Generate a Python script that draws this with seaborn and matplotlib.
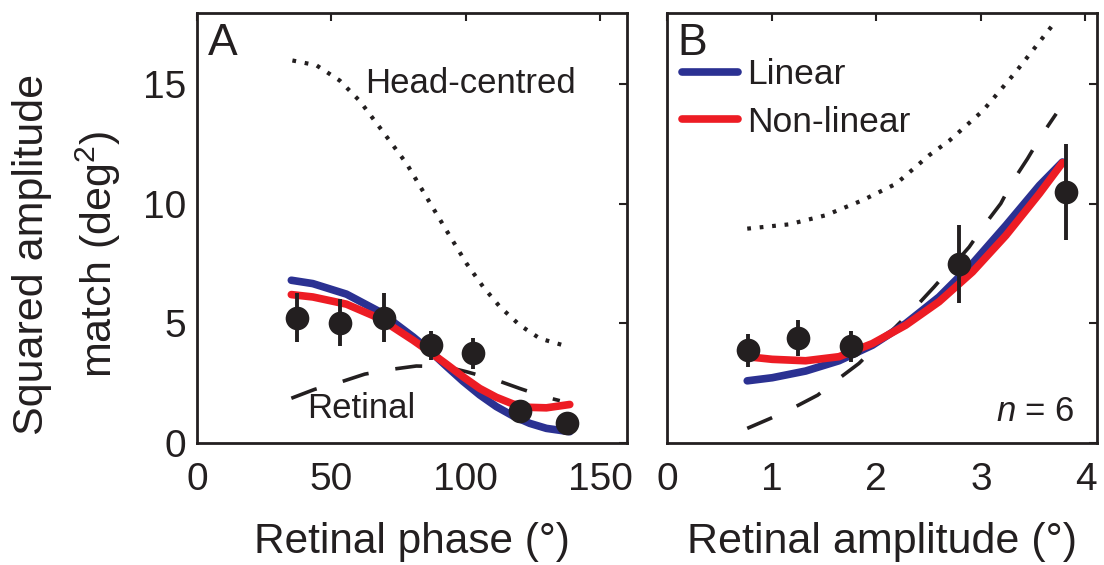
import numpy as np
import pandas as pd
import matplotlib
matplotlib.use("Agg")
import matplotlib.pyplot as plt
import seaborn as sns

# ---------------- Panel A data ----------------
a_pts_x = [37.2, 53.2, 69.6, 87.0, 102.7, 120.1, 137.5]
a_pts_y = [5.2, 5.03, 5.23, 4.08, 3.74, 1.34, 0.84]
a_err_lo = [4.2, 4.06, 4.22, 3.46, 3.07, 1.05, 0.6]
a_err_hi = [6.25, 6.0, 6.25, 4.68, 4.4, 1.6, 1.1]

a_fit_x = [35.1, 43.1, 55.6, 68.0, 80.4, 86.6, 92.8, 99.0, 105.2, 111.4, 117.6, 123.8, 130.0, 138.7]
a_lin_y = [6.80, 6.66, 6.22, 5.48, 4.43, 3.85, 3.20, 2.57, 2.00, 1.51, 1.12, 0.81, 0.60, 0.46]
a_non_y = [6.20, 6.10, 5.80, 5.20, 4.29, 3.80, 3.29, 2.76, 2.27, 1.90, 1.62, 1.48, 1.46, 1.60]

a_head_x = [35.5, 44.4, 53.1, 60.6, 69.3, 78.0, 85.4, 92.8, 100.3, 106.5, 112.7, 120.1, 127.6, 137.5]
a_head_y = [16.0, 15.8, 15.16, 14.3, 13.0, 11.68, 10.28, 8.89, 7.5, 6.52, 5.69, 4.92, 4.36, 4.04]

a_ret_x = [35.1, 43.7, 53.7, 62.4, 72.3, 81.6, 92.8, 100.3, 111.4, 120.1, 129.4, 135.0]
a_ret_y = [1.86, 2.23, 2.55, 2.87, 3.07, 3.21, 3.18, 2.97, 2.62, 2.27, 1.92, 1.76]

# ---------------- Panel B data ----------------
b_pts_x = [0.77, 1.25, 1.76, 2.79, 3.81]
b_pts_y = [3.88, 4.39, 4.04, 7.47, 10.49]
b_err_lo = [3.18, 3.62, 3.39, 5.83, 8.5]
b_err_hi = [4.57, 5.13, 4.67, 9.1, 12.52]

b_fit_x = [0.767, 1.006, 1.325, 1.644, 1.963, 2.282, 2.60, 2.92, 3.24, 3.56, 3.78]
b_lin_y = [2.59, 2.72, 3.00, 3.43, 4.08, 4.99, 6.10, 7.50, 9.10, 10.77, 11.75]
b_non_y = [3.60, 3.49, 3.43, 3.60, 4.15, 4.92, 5.90, 7.15, 8.68, 10.43, 11.72]

b_head_x = [0.767, 1.166, 1.517, 1.87, 2.19, 2.505, 2.70, 3.02, 3.33, 3.72]
b_head_y = [8.96, 9.14, 9.52, 10.15, 10.84, 12.03, 12.65, 13.9, 15.5, 17.67]

b_ret_x = [0.767, 0.99, 1.23, 1.44, 1.644, 1.835, 2.154, 2.378, 2.553, 2.888, 3.032, 3.19, 3.30, 3.446, 3.57, 3.72]
b_ret_y = [0.60, 1.02, 1.51, 1.99, 2.69, 3.32, 4.71, 5.69, 6.52, 8.19, 9.10, 10.01, 10.91, 11.89, 12.8, 13.77]

a_xticks = [0, 50, 100, 150]
b_xticks = [0, 1, 2, 3, 4]
yticks = [0, 5, 10, 15]

BLUE = "#2B3192"
RED = "#ED1C24"
BLACK = "#231F20"

sns.set_theme(style="white")
plt.rcParams['font.family'] = ['Liberation Sans', 'DejaVu Sans']
plt.rcParams['mathtext.fontset'] = 'custom'
plt.rcParams['mathtext.rm'] = 'Liberation Sans'
plt.rcParams['mathtext.it'] = 'Liberation Sans:italic'

fig = plt.figure(figsize=(11.04, 5.65), dpi=100)
axA = fig.add_axes([197/1104, 1-442.7/565, 430/1104, 430/565])
axB = fig.add_axes([667/1104, 1-442.7/565, 430/1104, 430/565])

def draw(ax, px, py, lo, hi, fx, ly, ny, hx, hy, rx, ry):
    sns.lineplot(x=hx, y=hy, ax=ax, color=BLACK, lw=3.0, linestyle=(0, (0.9, 2.1)),
                 sort=False, estimator=None)
    sns.lineplot(x=rx, y=ry, ax=ax, color=BLACK, lw=2.6, linestyle=(0, (7.5, 7.5)),
                 sort=False, estimator=None)
    sns.lineplot(x=fx, y=ly, ax=ax, color=BLUE, lw=5.5, sort=False, estimator=None,
                 label="Linear")
    sns.lineplot(x=fx, y=ny, ax=ax, color=RED, lw=5.5, sort=False, estimator=None,
                 label="Non-linear")
    ax.vlines(px, lo, hi, color=BLACK, lw=2.8, zorder=5)
    sns.scatterplot(x=px, y=py, ax=ax, color=BLACK, s=290, edgecolor=BLACK,
                    linewidth=0, zorder=6)

draw(axA, a_pts_x, a_pts_y, a_err_lo, a_err_hi, a_fit_x, a_lin_y, a_non_y,
     a_head_x, a_head_y, a_ret_x, a_ret_y)
draw(axB, b_pts_x, b_pts_y, b_err_lo, b_err_hi, b_fit_x, b_lin_y, b_non_y,
     b_head_x, b_head_y, b_ret_x, b_ret_y)

for ax, xt, xl in [(axA, a_xticks, (0, 160)), (axB, b_xticks, (0, 4.11))]:
    ax.set_xlim(*xl)
    ax.set_ylim(0, 18)
    ax.set_xticks(xt)
    ax.set_yticks(yticks)
    ax.tick_params(direction='in', length=6, width=1.5, top=True, right=True,
                   labelsize=28, colors=BLACK)
    ax.tick_params(axis='x', pad=14)
    ax.tick_params(axis='y', pad=8)
    for sp in ax.spines.values():
        sp.set_visible(True)
        sp.set_linewidth(2.0)
        sp.set_color(BLACK)

axA.get_legend().remove()
axB.tick_params(labelleft=False)

axA.set_xlabel("Retinal phase (°)", fontsize=30.5, color=BLACK, labelpad=17)
axB.set_xlabel("Retinal amplitude (°)", fontsize=31, color=BLACK, labelpad=17)
axA.set_ylabel("Squared amplitude\nmatch (deg$^2$)", fontsize=31, color=BLACK,
               linespacing=1.58)
axA.yaxis.set_label_coords(-0.171, 0.437)
axB.set_ylabel("")

axA.text(0.025, 0.975, "A", transform=axA.transAxes, fontsize=32, color=BLACK,
         ha='left', va='top')
axB.text(0.025, 0.975, "B", transform=axB.transAxes, fontsize=32, color=BLACK,
         ha='left', va='top')
axA.text(62.4, 15.04, "Head-centred", fontsize=25, color=BLACK, ha='left', va='center')
axA.text(41.0, 1.45, "Retinal", fontsize=25, color=BLACK, ha='left', va='center')
axB.text(0.947, 0.035, "$n$ = 6", transform=axB.transAxes, fontsize=25,
         color=BLACK, ha='right', va='bottom')

leg = axB.legend(loc='upper left', bbox_to_anchor=(-0.015, 0.943), frameon=False,
                 fontsize=25.5, handlelength=1.6, handletextpad=0.25,
                 labelspacing=0.4, borderaxespad=0.2)
for t in leg.get_texts():
    t.set_color(BLACK)

fig.savefig("out.png", dpi=100)
